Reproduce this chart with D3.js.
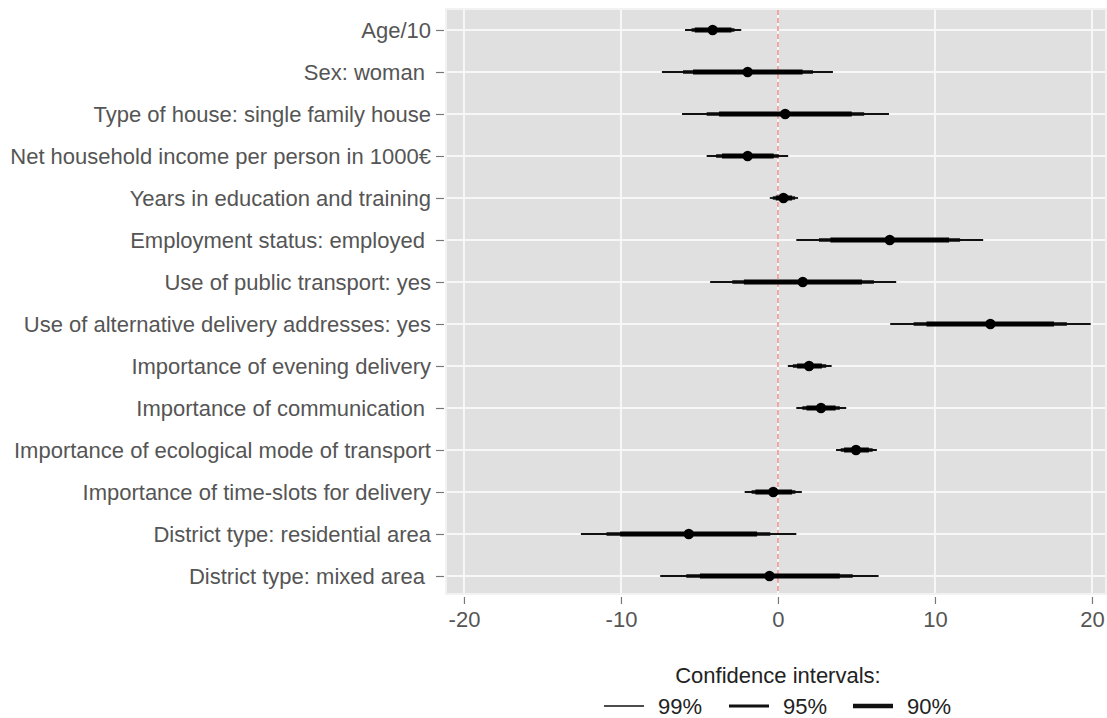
<!DOCTYPE html>
<html><head><meta charset="utf-8">
<script src="https://cdn.jsdelivr.net/npm/d3@7"></script>
<style>
html,body{margin:0;padding:0;background:#fff;}
svg{display:block;font-family:"Liberation Sans",Arial,sans-serif;}
text{white-space:pre;}
</style></head>
<body>
<svg id="chart" width="1107" height="718"></svg>
<script>
const categories = [
  "Age/10",
  "Sex: woman ",
  "Type of house: single family house",
  "Net household income per person in 1000€",
  "Years in education and training",
  "Employment status: employed ",
  "Use of public transport: yes",
  "Use of alternative delivery addresses: yes",
  "Importance of evening delivery",
  "Importance of communication ",
  "Importance of ecological mode of transport",
  "Importance of time-slots for delivery",
  "District type: residential area",
  "District type: mixed area "
];
const estimate = [-4.16, -1.93, 0.46, -1.93, 0.35, 7.12, 1.58, 13.53, 1.98, 2.74, 4.97, -0.30, -5.68, -0.54];
const lo99 = [-5.92, -7.39, -6.11, -4.54, -0.52, 1.17, -4.32, 7.15, 0.63, 1.17, 3.70, -2.12, -12.55, -7.50];
const hi99 = [-2.34, 3.50, 7.07, 0.65, 1.28, 13.07, 7.53, 19.92, 3.42, 4.35, 6.30, 1.52, 1.17, 6.41];
const lo95 = [-5.50, -6.05, -4.54, -3.94, -0.33, 2.61, -2.91, 8.64, 0.95, 1.55, 4.00, -1.68, -10.92, -5.84];
const hi95 = [-2.77, 2.23, 5.49, 0.05, 1.09, 11.60, 6.11, 18.40, 3.07, 3.94, 6.03, 1.11, -0.49, 4.76];
const lo90 = [-5.30, -5.41, -3.75, -3.56, -0.14, 3.34, -2.17, 9.46, 1.22, 1.82, 4.21, -1.44, -10.05, -4.97];
const hi90 = [-2.96, 1.57, 4.70, -0.27, 0.90, 10.90, 5.35, 17.58, 2.80, 3.67, 5.79, 0.90, -1.33, 3.94];
const xTicks = [-20, -10, 0, 10, 20];
const legendLabels = ["99%", "95%", "90%"];
const legendTitle = "Confidence intervals:";

const svg = d3.select("#chart");
const panel = {left: 447, right: 1105, top: 10, bottom: 593};
const FONT = "22px";

const x = d3.scaleLinear().domain([-21.08, 20.83]).range([panel.left, panel.right]);
const y = d3.scalePoint().domain(categories).range([30, 576]);

// panel background
svg.append("rect").attr("x", panel.left - 2).attr("y", panel.top - 2)
  .attr("width", panel.right - panel.left + 4).attr("height", panel.bottom - panel.top + 4)
  .attr("fill", "#f2f2f2");
svg.append("rect").attr("x", panel.left).attr("y", panel.top)
  .attr("width", panel.right - panel.left).attr("height", panel.bottom - panel.top)
  .attr("fill", "#e0e0e0");

// grid
svg.append("g").selectAll("line").data(xTicks).join("line")
  .attr("x1", d => x(d)).attr("x2", d => x(d))
  .attr("y1", panel.top).attr("y2", panel.bottom)
  .attr("stroke", "#f7f7f7").attr("stroke-width", 2);
svg.append("g").selectAll("line").data(categories).join("line")
  .attr("x1", panel.left).attr("x2", panel.right)
  .attr("y1", d => y(d)).attr("y2", d => y(d))
  .attr("stroke", "#f7f7f7").attr("stroke-width", 2);

// zero line
svg.append("line").attr("x1", x(0)).attr("x2", x(0))
  .attr("y1", panel.top).attr("y2", panel.bottom)
  .attr("stroke", "#f07070").attr("stroke-width", 1.2).attr("stroke-dasharray", "5,3");

const rows = categories.map((c, i) => ({c, est: estimate[i], l99: lo99[i], h99: hi99[i], l95: lo95[i], h95: hi95[i], l90: lo90[i], h90: hi90[i]}));
const g = svg.append("g");
g.selectAll("line.c99").data(rows).join("line").attr("class", "c99")
  .attr("x1", d => x(d.l99)).attr("x2", d => x(d.h99))
  .attr("y1", d => y(d.c)).attr("y2", d => y(d.c))
  .attr("stroke", "#111").attr("stroke-width", 1.8);
g.selectAll("line.c95").data(rows).join("line").attr("class", "c95")
  .attr("x1", d => x(d.l95)).attr("x2", d => x(d.h95))
  .attr("y1", d => y(d.c)).attr("y2", d => y(d.c))
  .attr("stroke", "#0a0a0a").attr("stroke-width", 3.4);
g.selectAll("line.c90").data(rows).join("line").attr("class", "c90")
  .attr("x1", d => x(d.l90)).attr("x2", d => x(d.h90))
  .attr("y1", d => y(d.c)).attr("y2", d => y(d.c))
  .attr("stroke", "#000").attr("stroke-width", 5);
g.selectAll("circle").data(rows).join("circle")
  .attr("cx", d => x(d.est)).attr("cy", d => y(d.c)).attr("r", 5.2)
  .attr("fill", "#000");

// y axis
const yAxis = svg.append("g").attr("transform", `translate(${panel.left - 3},0)`)
  .call(d3.axisLeft(y).tickSize(8).tickPadding(5));
yAxis.select(".domain").remove();
yAxis.selectAll(".tick line").attr("stroke", "#777").attr("stroke-width", 1.2);
yAxis.selectAll(".tick text").attr("fill", "#555").attr("font-size", FONT)
  .attr("font-family", "Liberation Sans, Arial, sans-serif");

// x axis
const xAxis = svg.append("g").attr("transform", `translate(0,${panel.bottom + 4})`)
  .call(d3.axisBottom(x).tickValues(xTicks).tickSize(7).tickPadding(7).tickFormat(d => String(d)));
xAxis.select(".domain").remove();
xAxis.selectAll(".tick line").attr("stroke", "#777").attr("stroke-width", 1.2);
xAxis.selectAll(".tick text").attr("fill", "#555").attr("font-size", FONT)
  .attr("font-family", "Liberation Sans, Arial, sans-serif");

// legend
const legend = svg.append("g");
legend.append("text").attr("x", x(0)).attr("y", 683).attr("text-anchor", "middle")
  .attr("font-size", FONT).attr("fill", "#222").text(legendTitle);
const widths = [1.4, 3, 4.5];
const lx = [604, 729, 853];
legendLabels.forEach((lab, i) => {
  legend.append("line").attr("x1", lx[i]).attr("x2", lx[i] + 40)
    .attr("y1", 706).attr("y2", 706).attr("stroke", "#111").attr("stroke-width", widths[i]);
  legend.append("text").attr("x", lx[i] + 54).attr("y", 714)
    .attr("font-size", FONT).attr("fill", "#222").text(lab);
});
</script>
</body></html>
